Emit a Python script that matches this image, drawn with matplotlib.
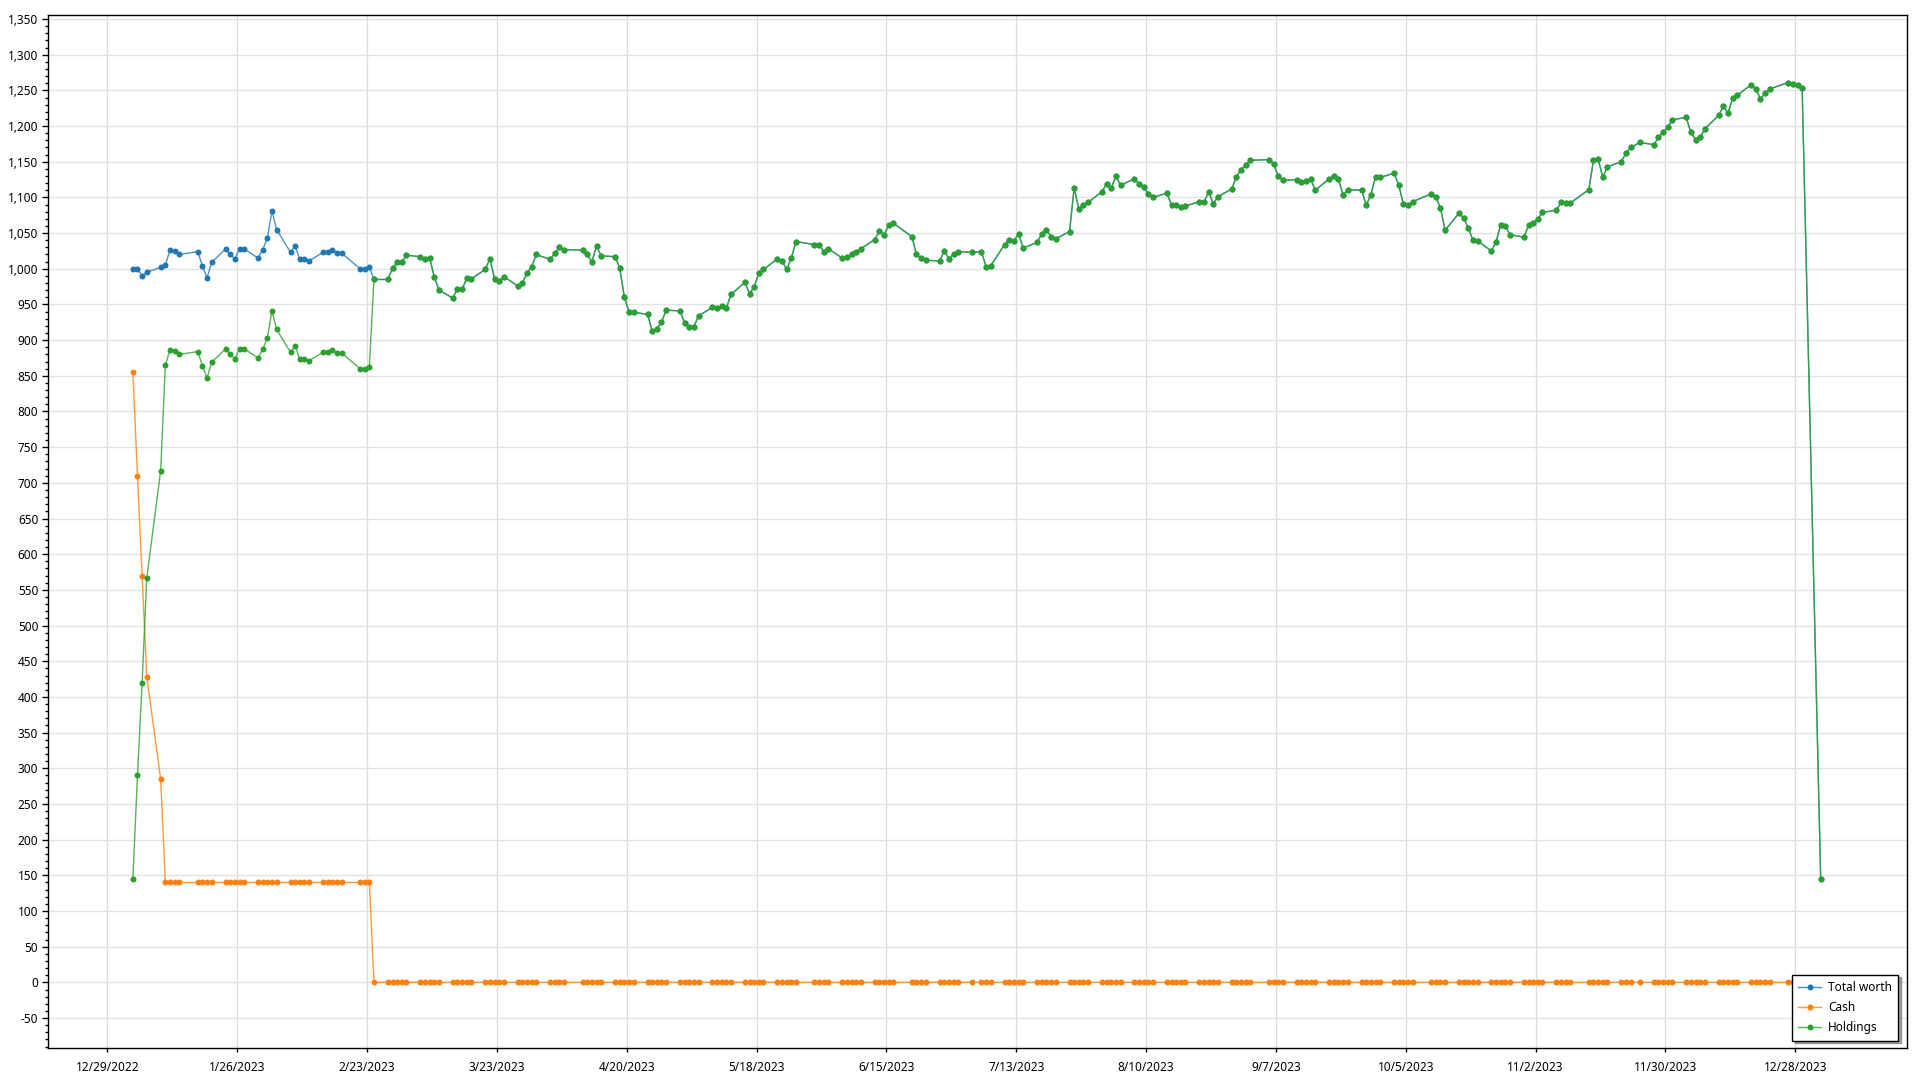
import numpy as np
import pandas as pd
import matplotlib
matplotlib.use('Agg')
import matplotlib.pyplot as plt
import matplotlib.dates as mdates
from matplotlib.ticker import MultipleLocator, FuncFormatter

# trading days in the data (weekdays minus these)
holidays = ['2023-01-16', '2023-02-20', '2023-04-07', '2023-05-29', '2023-06-19',
            '2023-07-04', '2023-09-04', '2023-10-09', '2023-11-10', '2023-11-23',
            '2023-12-25']
dates = pd.bdate_range('2023-01-03', '2023-12-29', freq='C', holidays=holidays)
dates = dates.append(pd.DatetimeIndex(['2024-01-02']))

holdings = [
    145, 290, 420, 567,
    717, 865, 886, 885, 880,
    884, 864, 847, 869,
    888, 880, 874, 888, 888,
    875, 887, 903, 941, 915,
    883, 892, 873, 874, 871,
    883, 884, 886, 882, 882,
    860, 859, 863, 985,
    985, 1001, 1009, 1010, 1019,
    1017, 1013, 1015, 989, 970,
    959, 972, 971, 987, 986,
    999, 1014, 986, 983, 989,
    976, 980, 994, 1003, 1020,
    1013, 1022, 1030, 1027,
    1026, 1020, 1010, 1032, 1018,
    1017, 1001, 960, 940, 939,
    936, 913, 916, 925, 942,
    941, 924, 919, 919, 934,
    946, 945, 948, 945, 964,
    981, 965, 975, 994, 999,
    1014, 1011, 999, 1015, 1038,
    1034, 1034, 1024, 1028,
    1015, 1017, 1020, 1023, 1028,
    1041, 1053, 1048, 1061, 1064,
    1045, 1020, 1015, 1012,
    1011, 1025, 1014, 1021, 1024,
    1023, 1024, 1003, 1004,
    1034, 1041, 1039, 1049, 1029,
    1037, 1049, 1055, 1045, 1042,
    1052, 1113, 1084, 1089, 1093,
    1108, 1119, 1113, 1130, 1117,
    1126, 1119, 1114, 1105, 1100,
    1106, 1089, 1089, 1087, 1088,
    1094, 1093, 1108, 1091, 1101,
    1112, 1129, 1139, 1146, 1152,
    1153, 1147, 1130, 1124,
    1125, 1122, 1123, 1126, 1110,
    1126, 1130, 1126, 1103, 1111,
    1110, 1089, 1104, 1129, 1128,
    1134, 1117, 1091, 1089, 1094,
    1105, 1101, 1085, 1054,
    1078, 1071, 1057, 1040, 1039,
    1025, 1038, 1062, 1060, 1048,
    1044, 1061, 1064, 1070, 1079,
    1082, 1093, 1092, 1092,
    1111, 1152, 1154, 1128, 1143,
    1150, 1162, 1170, 1177,
    1174, 1184, 1191, 1198, 1209,
    1212, 1191, 1181, 1184, 1196,
    1215, 1228, 1218, 1239, 1243,
    1258, 1252, 1238, 1246, 1252,
    1261, 1259, 1258, 1253,
    145,
]
cash_first_days = [855, 710, 570, 428, 285]
cash_level = 140          # until the 2/23 purchase
cash_until = '2023-02-23'

tick_start = '2022-12-29'
tick_count = 14

assert len(holdings) == len(dates), (len(holdings), len(dates))

holdings = np.array(holdings, dtype=float)
cash = np.where(dates <= cash_until, cash_level, 0.0)
cash[:len(cash_first_days)] = cash_first_days
total = holdings + cash

x = dates + pd.Timedelta(hours=12)

plt.rcParams['font.family'] = ['Noto Sans', 'DejaVu Sans']
fig = plt.figure(figsize=(19.2, 10.8), dpi=100)
ax = fig.add_axes([0.025, 0.0296, 0.9682, 0.9565])

blue, orange, green = '#1f77b4', '#ff7f0e', '#2ca02c'
for y, c, name in [(total, blue, 'Total worth'), (cash, orange, 'Cash'), (holdings, green, 'Holdings')]:
    rgb = matplotlib.colors.to_rgb(c)
    ax.plot(x, y, color=rgb + (0.8,), lw=1.0, marker='o', ms=4.3,
            mfc=c, mec=c, mew=0, label=name)

ticks = pd.date_range(tick_start, periods=tick_count, freq='28D')
ax.set_xticks(ticks)
ax.xaxis.set_major_formatter(FuncFormatter(
    lambda v, p: (lambda d: f"{d.month}/{d.day}/{d.year}")(mdates.num2date(v))))
ax.set_xlim(pd.Timestamp(tick_start) - pd.Timedelta(days=12.8),
            pd.Timestamp(tick_start) + pd.Timedelta(days=388.1))

ax.set_ylim(-92, 1355.6)
ax.yaxis.set_major_locator(MultipleLocator(50))
ax.yaxis.set_minor_locator(MultipleLocator(10))
ax.yaxis.set_major_formatter(FuncFormatter(lambda v, p: f"{v:,.0f}"))

ax.grid(True, which='major', color='#e2e2e2', lw=1.0)
ax.xaxis.grid(True, color='#dcdcdc', lw=0.9)
ax.set_axisbelow(True)
for s in ax.spines.values():
    s.set_linewidth(1.0)
    s.set_color('black')

ax.tick_params(axis='y', which='major', length=4, width=1, pad=3, labelsize=8.5)
ax.tick_params(axis='y', which='minor', length=2, width=1)
ax.tick_params(axis='x', which='major', length=3, width=1, pad=6, labelsize=8.5)

leg = ax.legend(loc='lower right', bbox_to_anchor=(0.9954, 0.0071), borderaxespad=0,
                fontsize=8.5, fancybox=False, edgecolor='black', framealpha=1,
                shadow=True, handlelength=1.9, handletextpad=0.6, borderpad=0.55,
                labelspacing=0.6)
leg.get_frame().set_linewidth(1.0)

fig.savefig('out.png', dpi=100)
